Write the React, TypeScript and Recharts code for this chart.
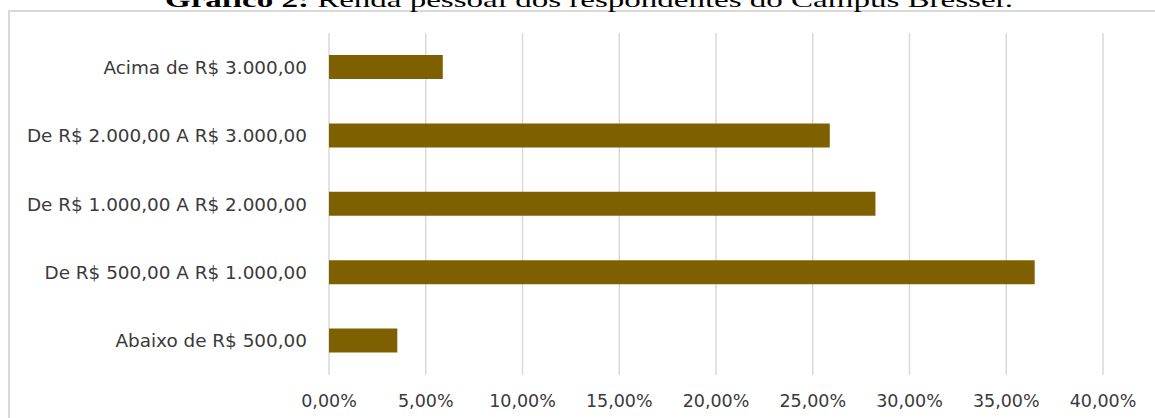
import React from 'react';
import { BarChart, Bar, XAxis, YAxis, CartesianGrid } from 'recharts';

// faixas de renda, de cima para baixo como no gráfico
const categories = [
  'Acima de R$ 3.000,00',
  'De R$ 2.000,00 A R$ 3.000,00',
  'De R$ 1.000,00 A R$ 2.000,00',
  'De R$ 500,00 A R$ 1.000,00',
  'Abaixo de R$ 500,00',
];

const shares = [0.0588, 0.2588, 0.2824, 0.3647, 0.0353];

const xTicks = [0, 0.05, 0.1, 0.15, 0.2, 0.25, 0.3, 0.35, 0.4];

const title = 'Gráfico 2:';
const subtitle = ' Renda pessoal dos respondentes do Campus Bresser.';

const data = categories.map((name, i) => ({ name, value: shares[i] }));

const pct = (v: number) => (v * 100).toFixed(2).replace('.', ',') + '%';

const App: React.FC = () => {
  return (
    <div
      style={{
        position: 'fixed',
        left: 0,
        top: 0,
        width: 1155,
        height: 418,
        overflow: 'hidden',
        background: '#fff',
      }}
    >
      <div
        style={{
          position: 'absolute',
          left: 8,
          top: 10,
          width: 1300,
          height: 600,
          border: '2px solid #d9d9d9',
        }}
      />
      <svg
        width={1155}
        height={20}
        style={{ position: 'absolute', left: 0, top: 0 }}
      >
        <text
          x={165}
          y={7}
          textLength={848}
          lengthAdjust="spacingAndGlyphs"
          fontFamily="'Liberation Serif', serif"
          fontSize={21}
          fill="#000"
        >
          <tspan fontWeight="bold">{title}</tspan>
          <tspan>{subtitle}</tspan>
        </text>
      </svg>
      <div style={{ position: 'absolute', left: 0, top: 0 }}>
        <BarChart
          width={1155}
          height={418}
          data={data}
          layout="vertical"
          margin={{ top: 33, right: 52, left: 0, bottom: 0 }}
        >
          <CartesianGrid horizontal={false} stroke="#d9d9d9" strokeWidth={1.5} />
          <XAxis
            type="number"
            domain={[0, 0.4]}
            ticks={xTicks}
            tickFormatter={pct}
            axisLine={false}
            tickLine={false}
            tickSize={0}
            tickMargin={20}
            height={43}
            interval={0}
            tick={{ fill: '#3a3a3a', fontSize: 17.5, fontFamily: "'DejaVu Sans', sans-serif" }}
          />
          <YAxis
            type="category"
            dataKey="name"
            width={329}
            axisLine={false}
            tickLine={false}
            tickSize={0}
            tickMargin={22}
            interval={0}
            tick={{ fill: '#3a3a3a', fontSize: 18.4, fontFamily: "'DejaVu Sans', sans-serif" }}
          />
          <Bar dataKey="value" fill="#7f6000" barSize={24} isAnimationActive={false} />
        </BarChart>
      </div>
    </div>
  );
};

export default App;
